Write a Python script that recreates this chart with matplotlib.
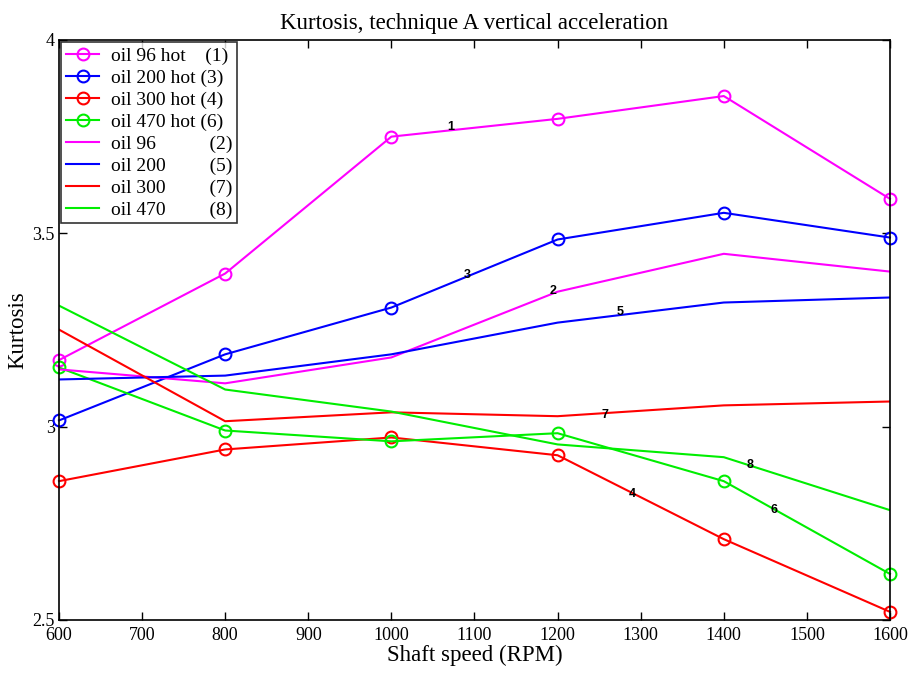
import matplotlib
matplotlib.use("Agg")
import matplotlib.pyplot as plt

plt.rcParams['font.family'] = ['Liberation Serif', 'DejaVu Serif']

rpm = [600, 800, 1000, 1200, 1400, 1600]

oil96_hot = [3.172, 3.396, 3.750, 3.796, 3.855, 3.589]
oil200_hot = [3.016, 3.187, 3.308, 3.484, 3.553, 3.489]
oil300_hot = [2.859, 2.941, 2.972, 2.926, 2.709, 2.521]
oil470_hot = [3.153, 2.990, 2.962, 2.983, 2.859, 2.619]
oil96 = [3.148, 3.112, 3.179, 3.349, 3.447, 3.401]
oil200 = [3.122, 3.132, 3.187, 3.269, 3.321, 3.334]
oil300 = [3.251, 3.014, 3.037, 3.027, 3.055, 3.065]
oil470 = [3.313, 3.096, 3.039, 2.954, 2.921, 2.784]

labels_hot = ['oil 96 hot    (1)', 'oil 200 hot (3)', 'oil 300 hot (4)', 'oil 470 hot (6)']
labels_cold = ['oil 96           (2)', 'oil 200         (5)', 'oil 300         (7)', 'oil 470         (8)']
colors = ['#ff00ff', '#0000ff', '#ff0000', '#00ee00']

# curve numbers written on the lines
tags = ['1', '3', '2', '5', '7', '4', '8', '6']
tag_x = [1072, 1091, 1194, 1275, 1257, 1290, 1432, 1460]
tag_y = [3.775, 3.392, 3.351, 3.297, 3.030, 2.826, 2.901, 2.785]

fig = plt.figure(figsize=(9.1, 6.73), dpi=100)
ax = fig.add_axes([0.0648, 0.0788, 0.9132, 0.8618])

for ys, lab, c in zip([oil96_hot, oil200_hot, oil300_hot, oil470_hot], labels_hot, colors):
    ax.plot(rpm, ys, color=c, lw=1.5, marker='o', markersize=8.5,
            markerfacecolor='none', markeredgewidth=1.5, label=lab, clip_on=False)
for ys, lab, c in zip([oil96, oil200, oil300, oil470], labels_cold, colors):
    ax.plot(rpm, ys, color=c, lw=1.5, label=lab)

for t, x, y in zip(tags, tag_x, tag_y):
    ax.text(x, y, t, ha='center', va='center', fontsize=9, fontweight='bold',
            family=['Liberation Sans', 'DejaVu Sans'])

ax.set_xlim(600, 1600)
ax.set_ylim(2.5, 4)
ax.set_xticks(range(600, 1601, 100))
ax.set_yticks([2.5, 3, 3.5, 4])
ax.set_yticklabels(['2.5', '3', '3.5', '4'])
ax.tick_params(direction='in', top=True, right=True, labelsize=13, length=6, width=1, pad=3)
ax.tick_params(axis='x', pad=5)
for s in ax.spines.values():
    s.set_linewidth(1.2)

ax.set_title('Kurtosis, technique A vertical acceleration', fontsize=16.5, pad=8)
ax.set_xlabel('Shaft speed (RPM)', fontsize=16.5, labelpad=1)
ax.set_ylabel('Kurtosis', fontsize=16.5, labelpad=3)

leg = ax.legend(loc='upper left', fontsize=14, frameon=True, fancybox=False,
                edgecolor='black', borderaxespad=0.12, handlelength=1.7,
                labelspacing=0.22, borderpad=0.25, handletextpad=0.6)
leg.get_frame().set_linewidth(1.2)

fig.savefig('out.png', dpi=100)
